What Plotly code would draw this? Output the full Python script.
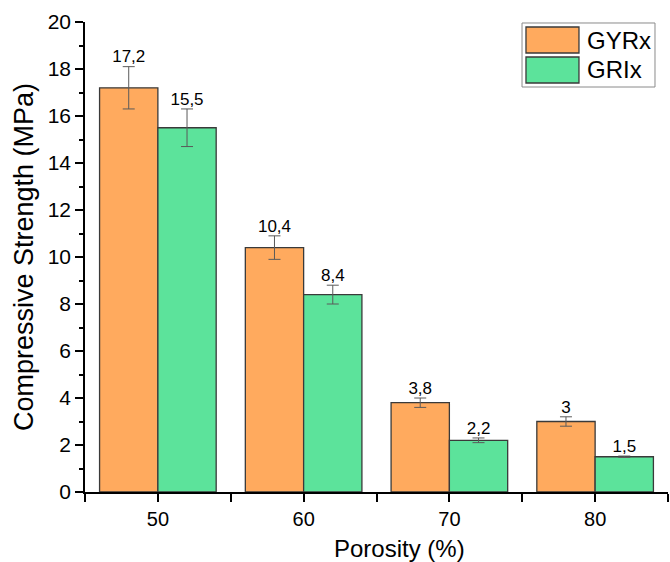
import plotly.graph_objects as go

categories = ["50", "60", "70", "80"]
gyrx = [17.2, 10.4, 3.8, 3.0]
gyrx_err = [0.9, 0.5, 0.2, 0.2]
grix = [15.5, 8.4, 2.2, 1.5]
grix_err = [0.8, 0.4, 0.1, 0.03]
gyrx_labels = ["17,2", "10,4", "3,8", "3"]
grix_labels = ["15,5", "8,4", "2,2", "1,5"]
series_names = ["GYRx", "GRIx"]
x_title = "Porosity (%)"
y_title = "Compressive Strength (MPa)"

ORANGE = "#FFAA5E"
GREEN = "#5CE39B"
EDGE = "#3a3a3a"
ERRC = "#5a5a5a"
FONT = "Liberation Sans, Arial, sans-serif"

idx = list(range(len(categories)))
x_or = [i - 0.2 for i in idx]
x_gr = [i + 0.2 for i in idx]

fig = go.Figure()
fig.add_trace(go.Bar(
    x=x_or, y=gyrx, width=0.4, name=series_names[0], showlegend=False,
    marker=dict(color=ORANGE, line=dict(color=EDGE, width=1.3)),
    error_y=dict(type="data", array=gyrx_err, color=ERRC, thickness=1, width=6),
))
fig.add_trace(go.Bar(
    x=x_gr, y=grix, width=0.4, name=series_names[1], showlegend=False,
    marker=dict(color=GREEN, line=dict(color=EDGE, width=1.3)),
    error_y=dict(type="data", array=grix_err, color=ERRC, thickness=1, width=6),
))
fig.add_trace(go.Scatter(
    x=x_or, y=[v + e for v, e in zip(gyrx, gyrx_err)], mode="text",
    text=gyrx_labels, textposition="top center", showlegend=False,
    textfont=dict(family=FONT, size=17, color="black"), hoverinfo="skip",
))
fig.add_trace(go.Scatter(
    x=x_gr, y=[v + e for v, e in zip(grix, grix_err)], mode="text",
    text=grix_labels, textposition="top center", showlegend=False,
    textfont=dict(family=FONT, size=17, color="black"), hoverinfo="skip",
))

# custom legend (large swatches, as in the reference)
shapes = [
    dict(type="rect", xref="paper", yref="paper", x0=0.7496, x1=0.9777, y0=0.8617, y1=0.9979,
         line=dict(color="#8a8a8a", width=1), fillcolor="white", layer="above"),
    dict(type="rect", xref="paper", yref="paper", x0=0.7564, x1=0.8473, y0=0.934, y1=0.9894,
         line=dict(color=EDGE, width=1.3), fillcolor=ORANGE, layer="above"),
    dict(type="rect", xref="paper", yref="paper", x0=0.7564, x1=0.8473, y0=0.8702, y1=0.9255,
         line=dict(color=EDGE, width=1.3), fillcolor=GREEN, layer="above"),
]
annotations = [
    dict(xref="paper", yref="paper", x=0.858, y=0.9617, text=series_names[0], showarrow=False,
         xanchor="left", yanchor="middle", font=dict(family=FONT, size=24, color="black")),
    dict(xref="paper", yref="paper", x=0.858, y=0.8979, text=series_names[1], showarrow=False,
         xanchor="left", yanchor="middle", font=dict(family=FONT, size=24, color="black")),
    dict(xref="paper", yref="paper", x=0.5386, y=-0.121, text=x_title, showarrow=False,
         xanchor="center", yanchor="middle", font=dict(family=FONT, size=24, color="black")),
]

fig.update_layout(
    width=670, height=562,
    margin=dict(l=85, r=2, t=22, b=70),
    plot_bgcolor="white", paper_bgcolor="white",
    barmode="overlay", showlegend=False,
    font=dict(family=FONT, color="black"),
    shapes=shapes, annotations=annotations,
    xaxis=dict(
        range=[-0.5, 3.5], tickvals=idx, ticktext=categories,
        showline=True, linecolor="black", linewidth=1.5,
        ticks="outside", ticklen=8, tickwidth=1.5, tickcolor="black",
        minor=dict(tickvals=[-0.5, 0.5, 1.5, 2.5, 3.5], ticks="outside", ticklen=8,
                   tickwidth=1.5, tickcolor="black"),
        tickfont=dict(size=20), showgrid=False, zeroline=False,
    ),
    yaxis=dict(
        range=[0, 20], dtick=2, tick0=0,
        showline=True, linecolor="black", linewidth=1.5,
        ticks="outside", ticklen=8, tickwidth=1.5, tickcolor="black",
        minor=dict(dtick=1, ticks="outside", ticklen=4, tickwidth=1.5, tickcolor="black"),
        tickfont=dict(size=21), showgrid=False, zeroline=False,
        title=dict(text=y_title, font=dict(size=27), standoff=6),
    ),
)

fig.write_html("out.html")
